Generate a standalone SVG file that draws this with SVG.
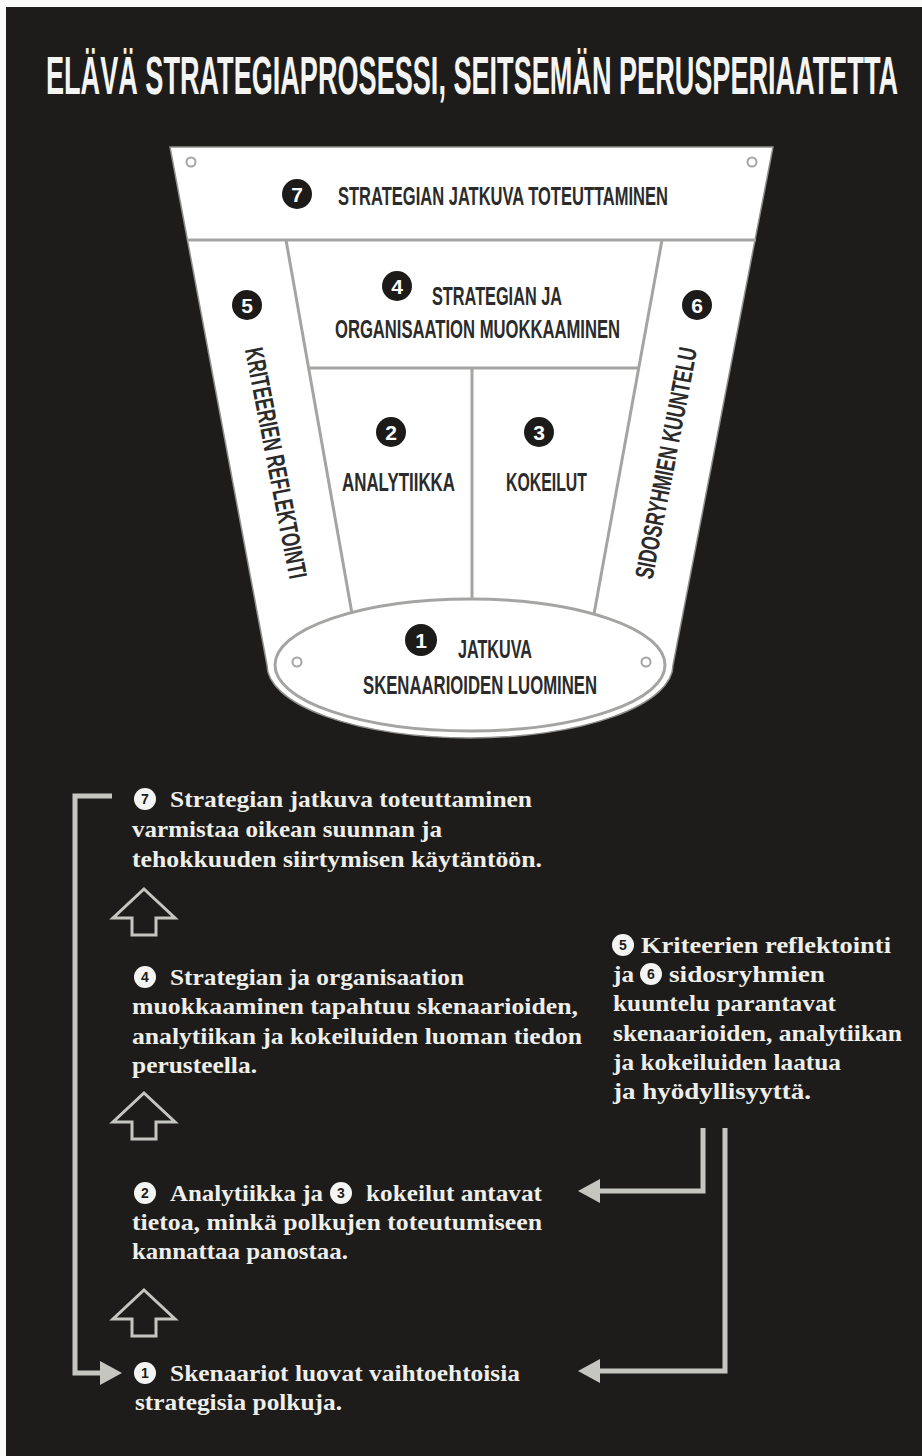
<svg xmlns="http://www.w3.org/2000/svg" xmlns:xlink="http://www.w3.org/1999/xlink" width="922" height="1456" viewBox="0 0 922 1456">
  <style>
    .title { font-family: 'Liberation Sans Narrow', 'Liberation Sans', Arial, sans-serif; font-weight: bold; font-size: 27px; fill: #f4f4f2; }
    .cap { font-family: 'Liberation Sans Narrow', 'Liberation Sans', Arial, sans-serif; font-weight: bold; font-size: 26px; fill: #2b2b2b; }
    .badge { fill: #1c1b1a; }
    .badge-num { font-family: 'Liberation Sans', Arial, sans-serif; font-weight: bold; font-size: 21px; fill: #ffffff; text-anchor: middle; }
    .divider { stroke: #a4a4a2; stroke-width: 3; fill: none; }
    .screw { fill: #ffffff; stroke: #a4a4a2; stroke-width: 2; }
    .body { font-family: 'Liberation Serif', 'Times New Roman', serif; font-weight: bold; font-size: 23px; fill: #eeeeea; }
    .chip { fill: #f4f4f2; }
    .chip-num { font-family: 'Liberation Sans', Arial, sans-serif; font-weight: bold; font-size: 14px; fill: #1d1c1a; text-anchor: middle; }
    .link { stroke: #c6c6c1; stroke-width: 5; fill: none; }
    .step { stroke: #c6c6c1; stroke-width: 3; fill: none; stroke-linejoin: miter; }
  </style>
  <defs>
    <marker id="head" viewBox="0 0 22 24" refX="0" refY="12" markerWidth="22" markerHeight="24" markerUnits="userSpaceOnUse" orient="auto">
      <path d="M0,0 L22,12 L0,24 Z" fill="#c6c6c1"/>
    </marker>
    <path id="up" d="M0,0 L31,29 L12,29 L12,46 L-12,46 L-12,29 L-31,29 Z"/>
  </defs>

  <!-- page -->
  <rect x="0" y="0" width="922" height="1456" fill="#fbfbf9"/>
  <rect x="6" y="7" width="916" height="1449" fill="#1d1c1a"/>

  <!-- heading: tall condensed capitals -->
  <text class="title" transform="translate(46,94) scale(1,1.97)" x="0" y="0" textLength="852" lengthAdjust="spacingAndGlyphs">ELÄVÄ STRATEGIAPROSESSI, SEITSEMÄN PERUSPERIAATETTA</text>

  <!-- bucket -->
  <g id="bucket">
    <path d="M170,147 L773,147 L673,665 A203,73 0 0 1 267,665 Z" fill="#ffffff" stroke="#8e8e8c" stroke-width="1.5"/>
    <line class="divider" x1="187" y1="240" x2="756" y2="240"/>
    <line class="divider" x1="286" y1="240" x2="354" y2="625"/>
    <line class="divider" x1="662" y1="240" x2="592" y2="625"/>
    <line class="divider" x1="309" y1="368" x2="639" y2="368"/>
    <line class="divider" x1="472" y1="368" x2="472" y2="625"/>
    <circle class="screw" cx="191" cy="162" r="4.5"/>
    <circle class="screw" cx="752" cy="162" r="4.5"/>
  </g>

  <g id="step7-top">
    <circle class="badge" cx="297" cy="194" r="15"/>
    <text class="badge-num" x="297" y="201.5">7</text>
    <text class="cap" x="338" y="205" textLength="330" lengthAdjust="spacingAndGlyphs">STRATEGIAN JATKUVA TOTEUTTAMINEN</text>
  </g>

  <g id="step4-top">
    <circle class="badge" cx="397" cy="286" r="15"/>
    <text class="badge-num" x="397" y="293.5">4</text>
    <text class="cap" x="432" y="305" textLength="130" lengthAdjust="spacingAndGlyphs">STRATEGIAN JA</text>
    <text class="cap" x="335" y="338" textLength="285" lengthAdjust="spacingAndGlyphs">ORGANISAATION MUOKKAAMINEN</text>
  </g>

  <g id="step5-top">
    <circle class="badge" cx="247" cy="305" r="15"/>
    <text class="badge-num" x="247" y="312.5">5</text>
    <text class="cap" transform="translate(276,463) rotate(79)" x="0" y="9" text-anchor="middle" textLength="235" lengthAdjust="spacingAndGlyphs">KRITEERIEN REFLEKTOINTI</text>
  </g>

  <g id="step6-top">
    <circle class="badge" cx="697" cy="305" r="15"/>
    <text class="badge-num" x="697" y="312.5">6</text>
    <text class="cap" transform="translate(666,463) rotate(-79)" x="0" y="9" text-anchor="middle" textLength="235" lengthAdjust="spacingAndGlyphs">SIDOSRYHMIEN KUUNTELU</text>
  </g>

  <g id="step2-top">
    <circle class="badge" cx="391" cy="432" r="15"/>
    <text class="badge-num" x="391" y="439.5">2</text>
    <text class="cap" x="342" y="491" textLength="113" lengthAdjust="spacingAndGlyphs">ANALYTIIKKA</text>
  </g>

  <g id="step3-top">
    <circle class="badge" cx="539" cy="432" r="15"/>
    <text class="badge-num" x="539" y="439.5">3</text>
    <text class="cap" x="506" y="491" textLength="81" lengthAdjust="spacingAndGlyphs">KOKEILUT</text>
  </g>

  <g id="step1-top">
    <ellipse cx="470" cy="665" rx="195" ry="66" fill="#ffffff" stroke="#a4a4a2" stroke-width="3"/>
    <circle class="screw" cx="297" cy="662" r="4.5"/>
    <circle class="screw" cx="646" cy="662" r="4.5"/>
    <circle class="badge" cx="421" cy="640" r="16"/>
    <text class="badge-num" x="421" y="647.5">1</text>
    <text class="cap" x="458" y="658" textLength="74" lengthAdjust="spacingAndGlyphs">JATKUVA</text>
    <text class="cap" x="363" y="694" textLength="234" lengthAdjust="spacingAndGlyphs">SKENAARIOIDEN LUOMINEN</text>
  </g>

  <!-- explanations -->
  <g id="note7">
    <circle class="chip" cx="145" cy="799" r="11"/>
    <text class="chip-num" x="145" y="804">7</text>
    <text class="body" x="170" y="807" textLength="362" lengthAdjust="spacingAndGlyphs">Strategian jatkuva toteuttaminen</text>
    <text class="body" x="132" y="837" textLength="310" lengthAdjust="spacingAndGlyphs">varmistaa oikean suunnan ja</text>
    <text class="body" x="132" y="867" textLength="410" lengthAdjust="spacingAndGlyphs">tehokkuuden siirtymisen käytäntöön.</text>
  </g>

  <g id="note4">
    <circle class="chip" cx="145" cy="977" r="11"/>
    <text class="chip-num" x="145" y="982">4</text>
    <text class="body" x="170" y="985" textLength="294" lengthAdjust="spacingAndGlyphs">Strategian ja organisaation</text>
    <text class="body" x="132" y="1014" textLength="446" lengthAdjust="spacingAndGlyphs">muokkaaminen tapahtuu skenaarioiden,</text>
    <text class="body" x="132" y="1044" textLength="450" lengthAdjust="spacingAndGlyphs">analytiikan ja kokeiluiden luoman tiedon</text>
    <text class="body" x="132" y="1073" textLength="125" lengthAdjust="spacingAndGlyphs">perusteella.</text>
  </g>

  <g id="note56">
    <circle class="chip" cx="623" cy="945" r="11"/>
    <text class="chip-num" x="623" y="950">5</text>
    <text class="body" x="641" y="953" textLength="250" lengthAdjust="spacingAndGlyphs">Kriteerien reflektointi</text>
    <text class="body" x="613" y="982" textLength="21" lengthAdjust="spacingAndGlyphs">ja</text>
    <circle class="chip" cx="651" cy="974" r="11"/>
    <text class="chip-num" x="651" y="979">6</text>
    <text class="body" x="669" y="982" textLength="156" lengthAdjust="spacingAndGlyphs">sidosryhmien</text>
    <text class="body" x="613" y="1011" textLength="223" lengthAdjust="spacingAndGlyphs">kuuntelu parantavat</text>
    <text class="body" x="613" y="1041" textLength="289" lengthAdjust="spacingAndGlyphs">skenaarioiden, analytiikan</text>
    <text class="body" x="613" y="1070" textLength="228" lengthAdjust="spacingAndGlyphs">ja kokeiluiden laatua</text>
    <text class="body" x="613" y="1099" textLength="198" lengthAdjust="spacingAndGlyphs">ja hyödyllisyyttä.</text>
  </g>

  <g id="note23">
    <circle class="chip" cx="145" cy="1193" r="11"/>
    <text class="chip-num" x="145" y="1198">2</text>
    <text class="body" x="170" y="1201" textLength="153" lengthAdjust="spacingAndGlyphs">Analytiikka ja</text>
    <circle class="chip" cx="341" cy="1193" r="11"/>
    <text class="chip-num" x="341" y="1198">3</text>
    <text class="body" x="366" y="1201" textLength="176" lengthAdjust="spacingAndGlyphs">kokeilut antavat</text>
    <text class="body" x="132" y="1230" textLength="410" lengthAdjust="spacingAndGlyphs">tietoa, minkä polkujen toteutumiseen</text>
    <text class="body" x="132" y="1259" textLength="216" lengthAdjust="spacingAndGlyphs">kannattaa panostaa.</text>
  </g>

  <g id="note1">
    <circle class="chip" cx="145" cy="1373" r="11"/>
    <text class="chip-num" x="145" y="1378">1</text>
    <text class="body" x="170" y="1381" textLength="350" lengthAdjust="spacingAndGlyphs">Skenaariot luovat vaihtoehtoisia</text>
    <text class="body" x="135" y="1410" textLength="207" lengthAdjust="spacingAndGlyphs">strategisia polkuja.</text>
  </g>

  <!-- connectors -->
  <g id="connectors">
    <use xlink:href="#up" href="#up" class="step" transform="translate(144,889)"/>
    <use xlink:href="#up" href="#up" class="step" transform="translate(144,1093)"/>
    <use xlink:href="#up" href="#up" class="step" transform="translate(144,1290)"/>
    <path class="link" d="M112,796 L75,796 L75,1373 L100,1373" marker-end="url(#head)"/>
    <path class="link" d="M703,1128 L703,1191 L600,1191" marker-end="url(#head)"/>
    <path class="link" d="M725,1128 L725,1371 L600,1371" marker-end="url(#head)"/>
  </g>
</svg>
